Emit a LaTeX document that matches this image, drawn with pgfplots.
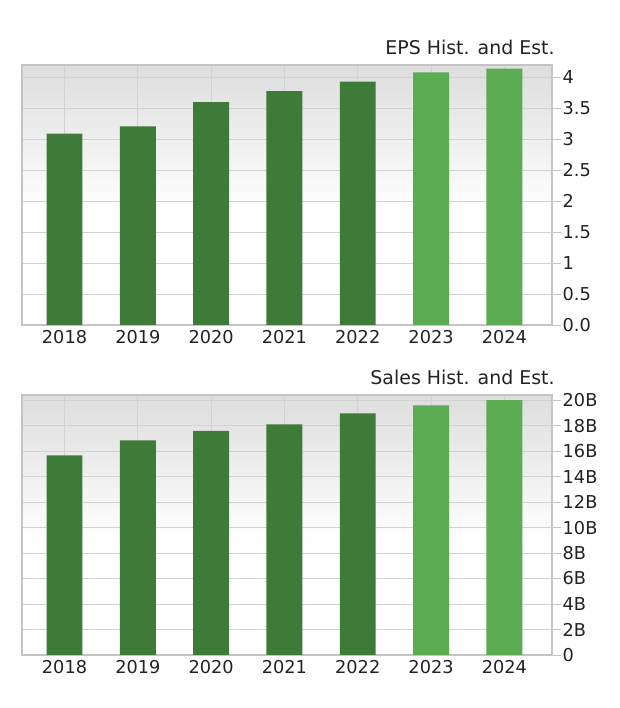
\documentclass[border=0pt]{standalone}
\usepackage{pgfplots}
\pgfplotsset{compat=1.18}
\usepackage{fontspec}
\setmainfont{DejaVu Sans}
\definecolor{darkg}{HTML}{3E7A38}
\definecolor{lightg}{HTML}{5BAB52}
\definecolor{gridc}{HTML}{D2D2D2}
\definecolor{framec}{HTML}{C4C4C4}
\definecolor{txt}{HTML}{222222}
\pgfdeclareverticalshading{bgshade}{100bp}{color(0bp)=(white); color(25bp)=(white); color(47bp)=(white); color(70bp)=(black!11); color(75bp)=(black!13); color(100bp)=(black!13)}
\pgfplotsset{
  mystyle/.style={
    width=397.5pt, height=195pt, scale only axis,
    anchor=south west,
    xmin=-0.58, xmax=6.65, ymin=0,
    xtick={0,...,6},
    xticklabels={2018,2019,2020,2021,2022,2023,2024},
    x tick style={draw=none},
    ytick style={draw=framec, line width=0.6pt},
    tick align=outside,
    major tick length=7pt,
    ytick pos=right,
    yticklabel pos=right,
    yticklabel style={anchor=west, xshift=-2.5pt},
    xticklabel style={yshift=6.5pt},
    ticklabel style={font=\fontsize{13.3}{16}\selectfont, text=txt},
    /pgf/number format/assume math mode=true,
    grid=major,
    major grid style={draw=gridc, line width=0.6pt},
    axis line style={draw=framec, line width=0.8pt},
    axis background/.style={shading=bgshade},
    ybar, bar width=0.49, bar shift=0pt,
    title style={at={(rel axis cs:1,1)}, anchor=base east, xshift=5.5pt, yshift=2pt, font=\fontsize{14.2}{17}\selectfont, text=txt},
  }
}
\begin{document}
\begin{tikzpicture}
\path[use as bounding box] (0,0) rectangle (465pt,531pt);
\begin{axis}[mystyle, at={(16.5pt,287.25pt)}, ymax=4.2,
  ytick={0,0.5,1,1.5,2,2.5,3,3.5,4},
  yticklabels={0.0,0.5,1,1.5,2,2.5,3,3.5,4},
  title={EPS Hist. and Est.}]
\addplot[draw=none, fill=darkg] coordinates {(0,3.09) (1,3.21) (2,3.60) (3,3.78) (4,3.93)};
\addplot[draw=none, fill=lightg] coordinates {(5,4.08) (6,4.14)};
\end{axis}
\begin{axis}[mystyle, at={(16.5pt,39.75pt)}, ymax=20.4,
  ytick={0,2,4,6,8,10,12,14,16,18,20},
  yticklabels={0,2B,4B,6B,8B,10B,12B,14B,16B,18B,20B},
  title={Sales Hist. and Est.}]
\addplot[draw=none, fill=darkg] coordinates {(0,15.67) (1,16.83) (2,17.59) (3,18.09) (4,18.95)};
\addplot[draw=none, fill=lightg] coordinates {(5,19.58) (6,20.0)};
\end{axis}
\end{tikzpicture}
\end{document}
